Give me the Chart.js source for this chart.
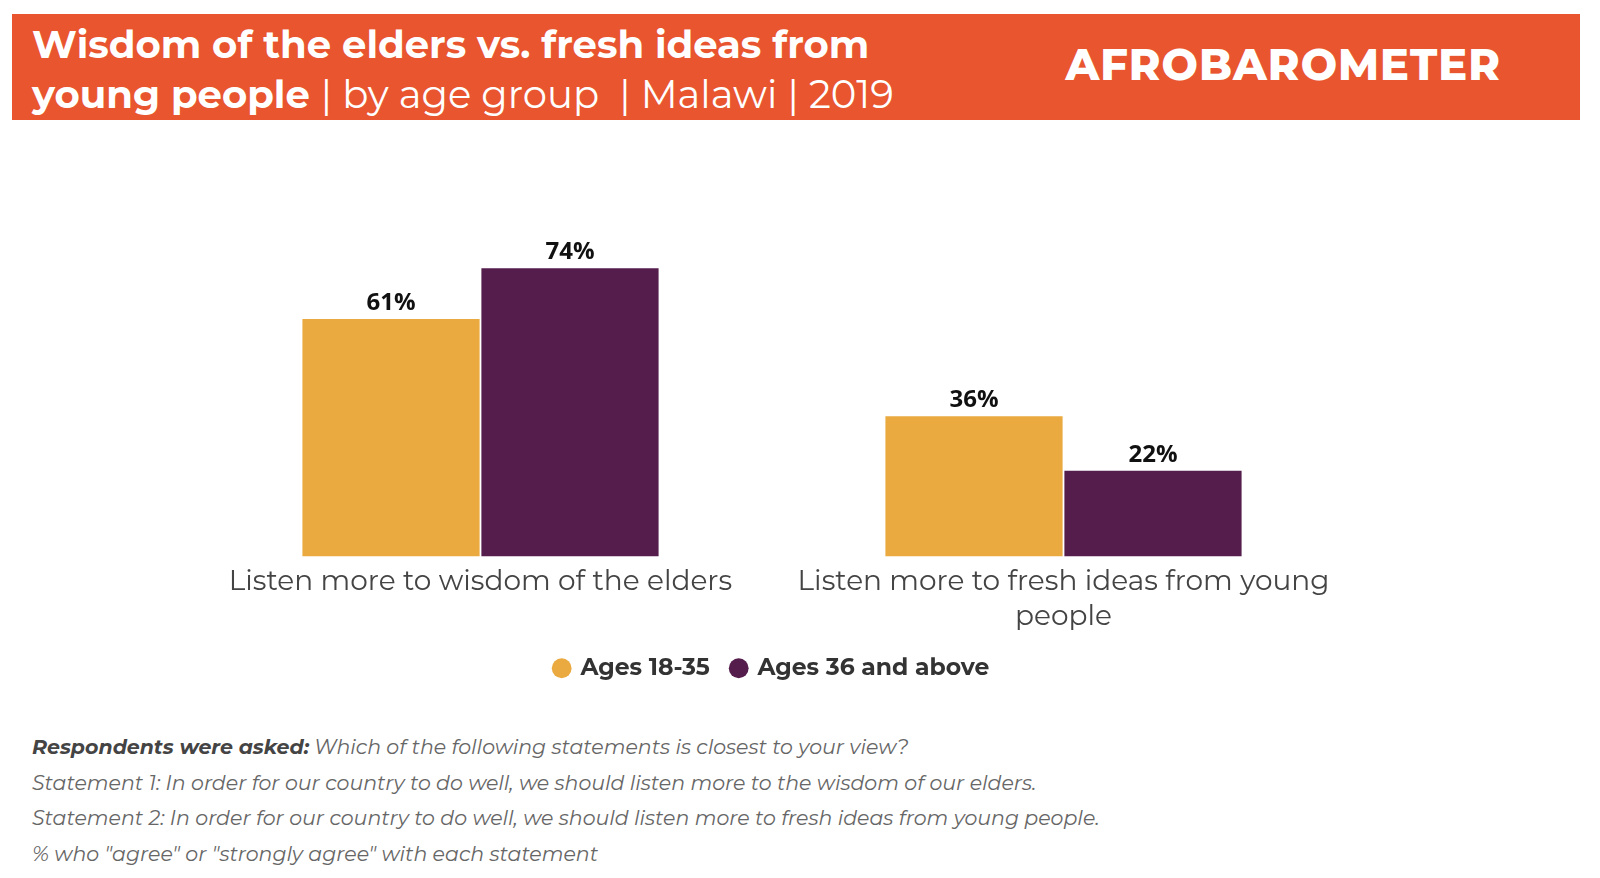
<!DOCTYPE html>
<html><head><meta charset="utf-8">
<script src="https://cdn.jsdelivr.net/npm/chart.js@4"></script>
<style>
body{margin:0;width:1600px;height:878px;background:#fff;font-family:Montserrat,"Open Sans",sans-serif;position:relative;overflow:hidden}
#hdr{position:absolute;left:12px;top:14px;width:1568px;height:106px;background:#E8552F;color:#fff}
#ttl{position:absolute;left:20px;top:6px;font-size:38.6px;line-height:50px;font-weight:700}
#ttl span{font-weight:400}
#logo{position:absolute;right:79px;top:24px;font-size:43px;font-weight:800;letter-spacing:1px}
#wrap{position:absolute;left:0;top:130px;width:1600px;height:570px}
#ftr{position:absolute;left:32px;top:729px;font-size:20.5px;font-style:italic;color:#666;line-height:35.7px}
#ftr b{color:#444}
</style></head><body>
<div id="hdr"><div id="ttl">Wisdom of the elders vs. fresh ideas from<br>young people <span>| by age group &nbsp;| Malawi | 2019</span></div>
<div id="logo">AFROBAROMETER</div></div>
<div id="wrap"><canvas id="c"></canvas></div>
<div id="ftr"><b>Respondents were asked:</b> Which of the following statements is closest to your view?<br>
Statement 1: In order for our country to do well, we should listen more to the wisdom of our elders.<br>
Statement 2: In order for our country to do well, we should listen more to fresh ideas from young people.<br>
% who "agree" or "strongly agree" with each statement</div>
<script>
const categories = [["Listen more to wisdom of the elders"], ["Listen more to fresh ideas from young", "people"]];
const seriesNames = ["Ages 18-35", "Ages 36 and above"];
const young = [61, 36];
const older = [74, 22];
const colors = ["#EAAA40", "#541D4C"];

const valueLabels = {
  id: 'valueLabels',
  afterDatasetsDraw(chart) {
    const ctx = chart.ctx;
    ctx.save();
    ctx.font = 'bold 24px "Open Sans", sans-serif';
    ctx.fillStyle = '#111';
    ctx.textAlign = 'center';
    ctx.textBaseline = 'bottom';
    chart.data.datasets.forEach((ds, i) => {
      chart.getDatasetMeta(i).data.forEach((bar, j) => {
        ctx.fillText(ds.data[j] + '%', bar.x, bar.y - 4);
      });
    });
    ctx.restore();
  }
};

new Chart(document.getElementById('c'), {
  type: 'bar',
  data: {
    labels: categories,
    datasets: [
      { label: seriesNames[0], data: young, backgroundColor: colors[0] },
      { label: seriesNames[1], data: older, backgroundColor: colors[1] }
    ]
  },
  options: {
    responsive: true,
    maintainAspectRatio: false,
    animation: false,
    categoryPercentage: 0.614,
    barPercentage: 0.99,
    layout: { padding: { left: 189, right: 245, top: 37, bottom: 10 } },
    plugins: {
      legend: {
        position: 'bottom',
        labels: { usePointStyle: true, pointStyle: 'circle', boxWidth: 14, boxHeight: 14, color: '#333', padding: 22,
          font: { size: 23.5, weight: 'bold', family: 'Montserrat, "Open Sans", sans-serif' } }
      },
      tooltip: { enabled: false }
    },
    scales: {
      x: {
        grid: { display: false }, border: { display: false },
        ticks: { color: '#444', padding: 0, font: { size: 28, family: 'Montserrat, "Open Sans", sans-serif', lineHeight: 1.25 } }
      },
      y: { display: false, min: 0, max: 100 }
    }
  },
  plugins: [valueLabels]
});
</script>
</body></html>
